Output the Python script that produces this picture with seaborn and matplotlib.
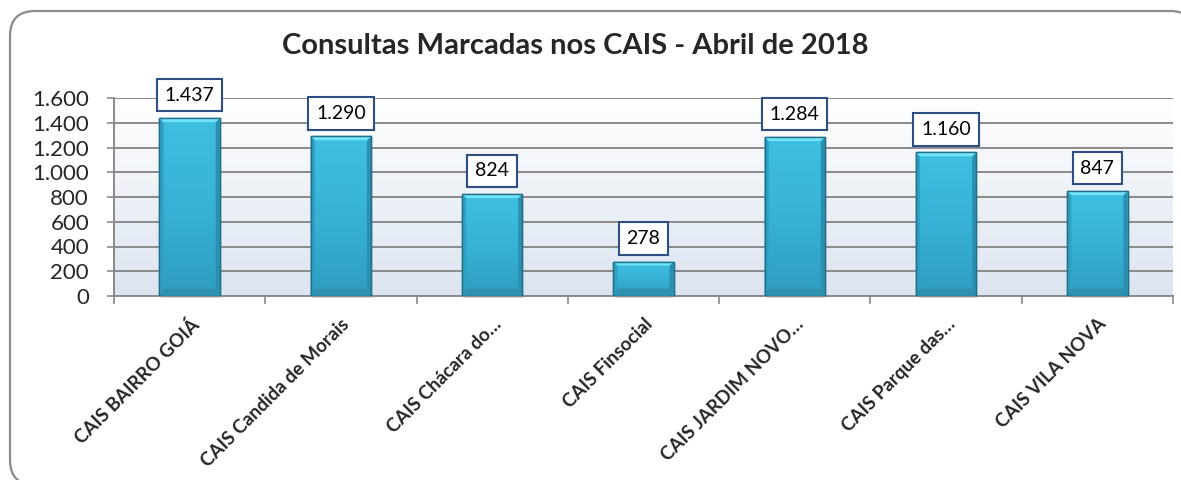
import numpy as np
import pandas as pd
import matplotlib
matplotlib.use('Agg')
import matplotlib.pyplot as plt
import matplotlib.patches as mpatches
from matplotlib.colors import LinearSegmentedColormap
import seaborn as sns

# Dados
unidades = ['CAIS BAIRRO GOIÁ', 'CAIS Candida de Morais', 'CAIS Chácara do…',
            'CAIS Finsocial', 'CAIS JARDIM NOVO…', 'CAIS Parque das…', 'CAIS VILA NOVA']
consultas = [1437, 1290, 824, 278, 1284, 1160, 847]
yticks = [0, 200, 400, 600, 800, 1000, 1200, 1400, 1600]
titulo = 'Consultas Marcadas nos CAIS - Abril de 2018'

df = pd.DataFrame({'unidade': unidades, 'consultas': consultas})

sns.set_style('white')
plt.rcParams['font.family'] = ['Lato', 'DejaVu Sans']

fig = plt.figure(figsize=(11.81, 4.8), dpi=100)

# moldura arredondada (eixo de fundo em pixels)
ax_bg = fig.add_axes([0, 0, 1, 1], zorder=-1)
ax_bg.set_xlim(0, 1181)
ax_bg.set_ylim(0, 480)
ax_bg.axis('off')
ax_bg.add_patch(mpatches.FancyBboxPatch((10, -5), 1185, 474,
                                        boxstyle='round,pad=0,rounding_size=25',
                                        facecolor='white', edgecolor='#8c8c8c',
                                        linewidth=1.6, clip_on=False))

ax = fig.add_axes([114/1181, 184/480, 1059/1181, 198/480])

def fmt(v):
    return f'{v:,}'.replace(',', '.')

# fundo em degradê
bg = LinearSegmentedColormap.from_list('bg', ['#ffffff', '#dbe4f0'])
ax.imshow(np.linspace(0, 1, 256).reshape(-1, 1), cmap=bg, aspect='auto',
          extent=(-0.5, 6.5, 0, 1600), origin='upper', zorder=0)

sns.barplot(data=df, x='unidade', y='consultas', color='#36b4d8', width=0.4,
            edgecolor='#23748f', linewidth=1.0, ax=ax, zorder=3)

# efeito 3D nas barras (degradê + bisel)
bar_cmap = LinearSegmentedColormap.from_list('bar', ['#3ec0e2', '#37b2d6', '#2f9dc0'])
grad = np.linspace(0, 1, 256).reshape(-1, 1)
bev_x, bev_y = 0.07, 32
for p in list(ax.patches):
    x0, w, h = p.get_x(), p.get_width(), p.get_height()
    x1 = x0 + w
    img = ax.imshow(grad, cmap=bar_cmap, aspect='auto', extent=(x0, x1, 0, h),
                    origin='upper', zorder=3.5)
    img.set_clip_path(p)
    dx = w * bev_x
    by = min(bev_y, h / 3)
    # topo claro
    ax.add_patch(mpatches.Polygon([(x0, h), (x1, h), (x1 - dx, h - by), (x0 + dx, h - by)],
                                  closed=True, facecolor='#72e4f8', edgecolor='none', zorder=3.7))
    # laterais
    ax.add_patch(mpatches.Polygon([(x0, h), (x0 + dx, h - by), (x0 + dx, 60), (x0, 0)],
                                  closed=True, facecolor='#2f9fc2', edgecolor='none', zorder=3.6))
    ax.add_patch(mpatches.Polygon([(x1, h), (x1 - dx, h - by), (x1 - dx, 60), (x1, 0)],
                                  closed=True, facecolor='#2b8fb0', edgecolor='none', zorder=3.6))
    # base
    ax.add_patch(mpatches.Polygon([(x0, 0), (x1, 0), (x1 - dx, 60), (x0 + dx, 60)],
                                  closed=True, facecolor='#2d90ae', edgecolor='none', zorder=3.7))
    ax.add_patch(mpatches.Rectangle((x0, 0), w, h, facecolor='none', edgecolor='#226f89',
                                    linewidth=1.0, zorder=3.8))
    # sombra
    ax.add_patch(mpatches.Rectangle((x0 + 0.01, -14), w, 14, facecolor='#b0b0b0', alpha=0.5,
                                    edgecolor='none', zorder=2.5, clip_on=False))

# rótulos de valores
for i, v in enumerate(consultas):
    ax.annotate(fmt(v), xy=(i, v), xytext=(0, 10.5), textcoords='offset points',
                ha='center', va='bottom', fontsize=14, color='black', zorder=5,
                bbox=dict(boxstyle='square,pad=0.4', facecolor='white',
                          edgecolor='#2d4f85', linewidth=1.5))

ax.set_xlim(-0.5, 6.5)
ax.set_ylim(0, 1600)
ax.set_yticks(yticks)
ax.set_yticklabels([fmt(t) for t in yticks], fontsize=16)
ax.yaxis.grid(True, color='#8a8a8a', linewidth=1.4, zorder=1)
ax.set_axisbelow(True)
ax.tick_params(axis='y', length=5, width=1.2, color='#8a8a8a', pad=13, left=True)

ax.set_xticks(np.arange(-0.5, 7, 1), minor=False)
ax.set_xticklabels([])
ax.set_xticks(range(7), minor=True)
ax.set_xticklabels(unidades, minor=True, rotation=45, ha='right', rotation_mode='anchor',
                   fontsize=13.5, fontweight='bold')
ax.tick_params(axis='x', which='major', length=6, width=1.2, color='#8a8a8a', bottom=True)
ax.tick_params(axis='x', which='minor', length=0, pad=14)
ax.set_xlabel('')
ax.set_ylabel('')

for s in ['top', 'right']:
    ax.spines[s].set_visible(False)
for s in ['left', 'bottom']:
    ax.spines[s].set_color('#8a8a8a')
    ax.spines[s].set_linewidth(1.4)

fig.text(575 / 1181, 1 - 46 / 480, titulo, ha='center', va='center',
         fontsize=21, fontweight='bold')

fig.savefig('out.png', dpi=100)
